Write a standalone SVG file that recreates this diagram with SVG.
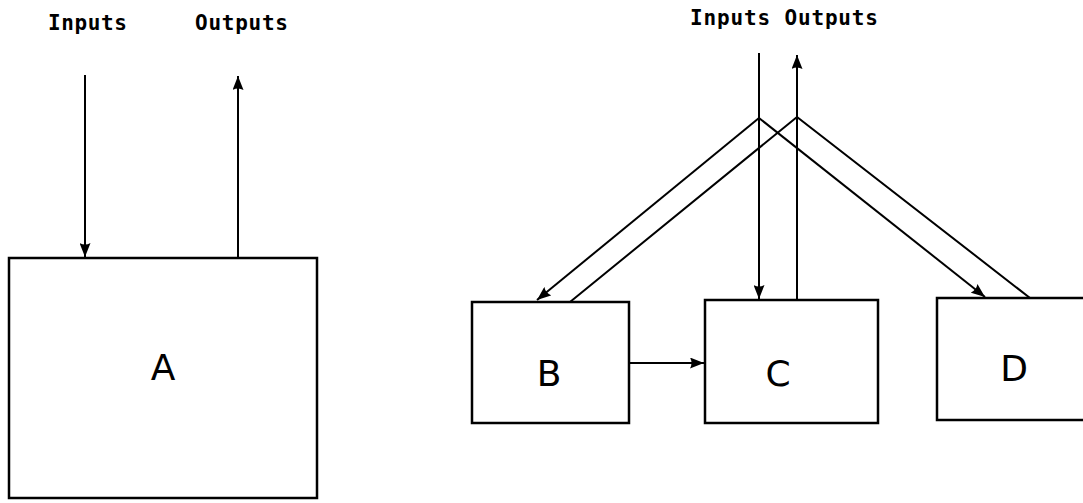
<svg xmlns="http://www.w3.org/2000/svg" width="1083" height="503" viewBox="0 0 1083 503">
  <defs>
    <marker id="arrow" viewBox="0 0 14 11" refX="14" refY="5.5" markerWidth="14" markerHeight="11" markerUnits="userSpaceOnUse" orient="auto">
      <path d="M0,0 L14,5.5 L0,11 Q3,5.5 0,0 Z" fill="#000"/>
    </marker>
  </defs>
  <style>
    .box { fill: #fff; stroke: #000; stroke-width: 2.5; }
    .line { fill: none; stroke: #000; stroke-width: 2; }
    .io { font-family: "DejaVu Sans Mono", "Liberation Mono", monospace; font-weight: bold; font-size: 21px; fill: #000; }
    .name { font-family: "DejaVu Sans", "Liberation Sans", sans-serif; font-size: 36px; fill: #000; text-anchor: middle; }
  </style>
  <rect width="1083" height="503" fill="#fff"/>

  <!-- single system -->
  <g id="label-left">
    <text class="io" x="48" y="30" textLength="79">Inputs</text>
    <text class="io" x="195" y="30" textLength="93">Outputs</text>
  </g>
  <g id="node-A">
    <rect class="box" x="9" y="258" width="308" height="240"/>
    <text class="name" x="163" y="380">A</text>
  </g>

  <!-- decomposed system -->
  <g id="label-right">
    <text class="io" x="690" y="25" textLength="188">Inputs Outputs</text>
  </g>
  <g id="node-B">
    <rect class="box" x="472" y="302" width="157" height="121"/>
    <text class="name" x="549" y="386">B</text>
  </g>
  <g id="node-C">
    <rect class="box" x="705" y="300" width="173" height="123"/>
    <text class="name" x="778" y="386">C</text>
  </g>
  <g id="node-D">
    <rect class="box" x="937" y="298" width="160" height="122"/>
    <text class="name" x="1014" y="381">D</text>
  </g>

  <g id="connectors">
    <!-- A -->
    <line class="line" x1="85" y1="75" x2="85" y2="257" marker-end="url(#arrow)"/>
    <line class="line" x1="238" y1="258" x2="238" y2="76" marker-end="url(#arrow)"/>
    <!-- inputs fan out -->
    <line class="line" x1="759" y1="53" x2="759" y2="299" marker-end="url(#arrow)"/>
    <polyline class="line" points="759,118 537,300" marker-end="url(#arrow)"/>
    <polyline class="line" points="759,118 985,297" marker-end="url(#arrow)"/>
    <!-- outputs gather -->
    <line class="line" x1="797" y1="300" x2="797" y2="55" marker-end="url(#arrow)"/>
    <polyline class="line" points="570,302 797,117 1030,298"/>
    <!-- B to C -->
    <line class="line" x1="629" y1="363" x2="704" y2="363" marker-end="url(#arrow)"/>
  </g>
</svg>
